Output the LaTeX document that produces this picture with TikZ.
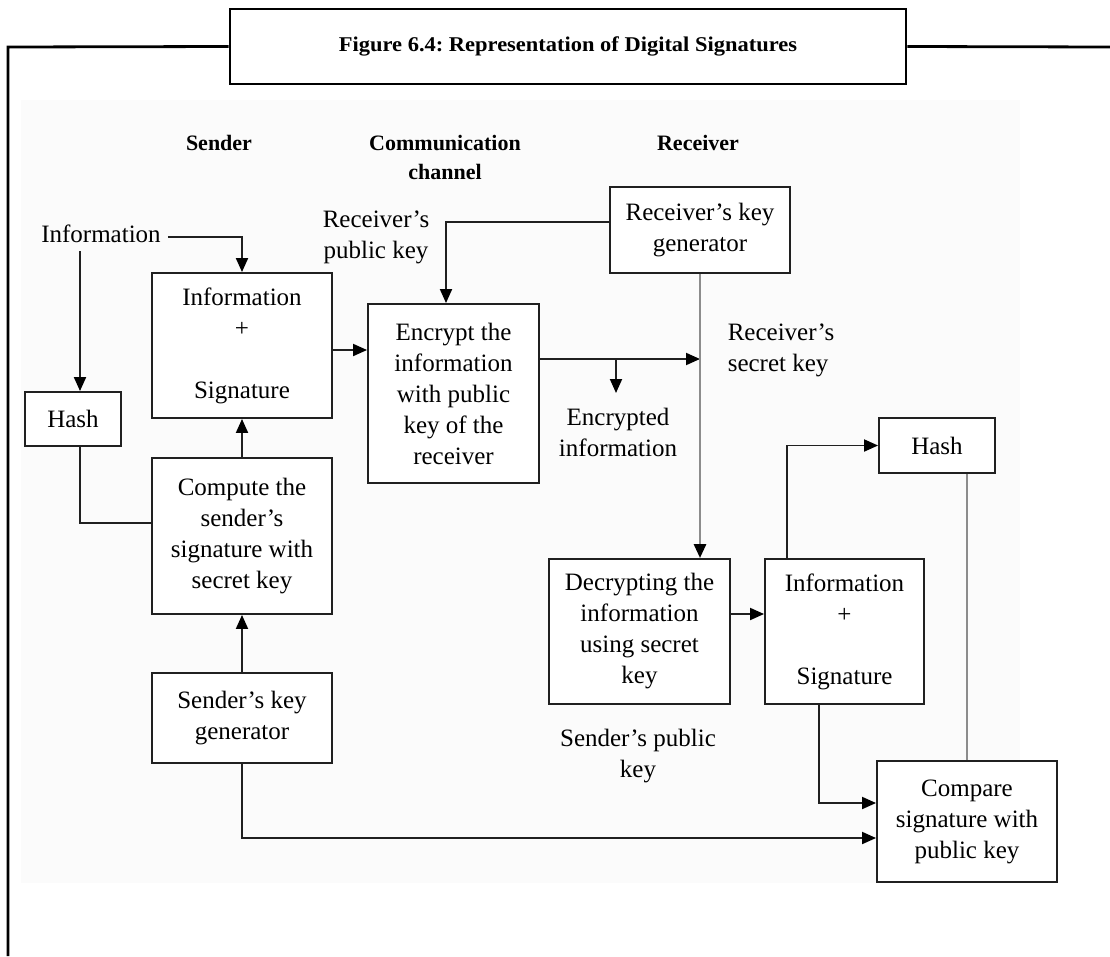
\documentclass[tikz,border=0pt]{standalone}
\usepackage{fontspec}
\setmainfont{Liberation Serif}
\newfontfamily\titlefont[FakeStretch=1.07]{Liberation Serif}
\usetikzlibrary{arrows.meta}
\definecolor{bgc}{HTML}{FBFBFB}
\definecolor{lgray}{HTML}{8C8C8C}
\definecolor{dline}{HTML}{202020}
\begin{document}
\frenchspacing
\begin{tikzpicture}[x=1pt,y=-1pt,
  every node/.style={inner sep=0pt},
  box/.style={draw=dline, line width=1.9pt, align=center, fill=white,
    font=\fontsize{25}{31}\selectfont},
  lbl/.style={align=center, font=\fontsize{25}{31}\selectfont},
  hdr/.style={align=center, font=\bfseries\fontsize{22}{29}\selectfont},
  conn/.style={line width=1.9pt, draw=dline},
  gconn/.style={line width=2.8pt, draw=lgray},
  tip/.style={-{Triangle[length=14pt,width=12pt,color=black]}},
  arr/.style={conn, tip},
  garr/.style={gconn, tip},
  frame/.style={line width=2.8pt, draw=black}]
\useasboundingbox (0,0) rectangle (1110,956);
\fill[bgc] (21,100) rectangle (1020,883);

% title and frame
\node[frame, draw, minimum width=676pt, minimum height=75pt,
  font=\titlefont\bfseries\fontsize{21}{25}\selectfont] (title) at (568,46.5)
  {Figure 6.4: Representation of Digital Signatures};
\coordinate (tl) at (8,47);
\coordinate (bl) at (8,956);
\coordinate (tr) at (1110,47);
\draw[frame] (title.west) -- (tl) -- (bl);
\draw[frame] (title.east) -- (tr);

% headers
\node[hdr] (hs) at (219,143) {Sender};
\node[hdr] (hc) at (445,157.5) {Communication\\channel};
\node[hdr] (hr) at (698,143) {Receiver};

% boxes
\node[box, minimum width=96pt, minimum height=54pt] (hash1) at (73,419) {Hash};
\node[box, minimum width=180pt, minimum height=145pt] (infosig1) at (242,345.5) {Information\\+\\ \\Signature};
\node[box, minimum width=180pt, minimum height=156pt] (compute) at (242,536) {Compute the\\sender’s\\signature with\\secret key};
\node[box, minimum width=180pt, minimum height=90pt] (skg) at (242,718) {Sender’s key\\generator};
\node[box, minimum width=171pt, minimum height=179pt] (encrypt) at (453.5,393.5) {Encrypt the\\information\\with public\\key of the\\receiver};
\node[box, minimum width=180pt, minimum height=86pt] (rkg) at (700,230) {Receiver’s key\\generator};
\node[box, minimum width=181pt, minimum height=145pt] (decrypt) at (639.5,631.5) {Decrypting the\\information\\using secret\\key};
\node[box, minimum width=159pt, minimum height=145pt] (infosig2) at (844.5,631.5) {Information\\+\\ \\Signature};
\node[box, minimum width=116pt, minimum height=55pt] (hash2) at (937,445.5) {Hash};
\node[box, minimum width=180pt, minimum height=121pt] (compare) at (967,821.5) {Compare\\signature with\\public key};

% free labels
\node[lbl] (info) at (101,234) {Information};
\node[lbl] (rpk) at (376,237.5) {Receiver’s\\public key};
\node[lbl, align=left] (rsk) at (781,350) {Receiver’s\\secret key};
\node[lbl] (enc) at (618,432.5) {Encrypted\\information};
\node[lbl] (spk) at (638,756) {Sender’s public\\key};

% connectors
\draw[arr] ([xshift=7pt,yshift=-3pt]info.east) -| (infosig1.north);
\draw[arr] ([xshift=7pt,yshift=-8pt]info.south -| hash1.north) -- ([xshift=7pt]hash1.north);
\draw[conn] ([xshift=7pt]hash1.south) |- ([yshift=13pt]compute.west);
\draw[arr] (compute.north) -- (infosig1.south);
\draw[arr] (skg.north) -- (compute.south);
\draw[arr] ([yshift=-4.5pt]infosig1.east) -- ([yshift=-4.5pt]infosig1.east -| encrypt.west);
\draw[arr] ([yshift=8pt]rkg.west) -| ([xshift=-7.5pt]encrypt.north);
\coordinate (junc) at (700,359);
\draw[arr] ([yshift=34.5pt]encrypt.east) -- (junc);
\coordinate (e1) at (616,359);
\coordinate (e2) at (616,393);
\draw[arr] (e1) -- (e2);
\draw[garr] (rkg.south) -- (rkg.south |- decrypt.north);
\draw[arr] ([yshift=17.5pt]decrypt.east) -- ([yshift=17.5pt]decrypt.east -| infosig2.west);
\draw[arr] ([xshift=-57.5pt]infosig2.north) |- (hash2.west);
\draw[gconn] (compare.north |- hash2.south) -- (compare.north);
\draw[arr] ([xshift=-25.5pt]infosig2.south) |- ([yshift=18.5pt]compare.west);
\draw[arr] (skg.south) |- ([yshift=-16.5pt]compare.west);
\end{tikzpicture}
\end{document}
